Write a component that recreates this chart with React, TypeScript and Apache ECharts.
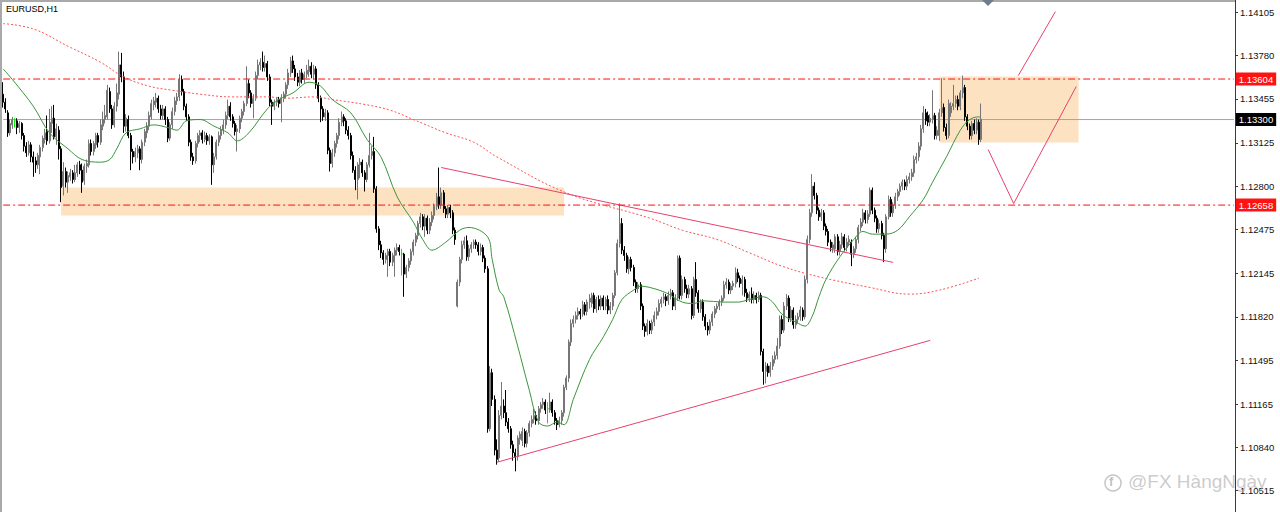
import React, { useEffect, useRef } from "react";
import * as echarts from "echarts";

const chartTitle = "EURUSD,H1";
const watermarkText = "@FX HàngNgày";
const SLOT_COUNT = 532;
const Y_MIN = 1.10355;
const Y_MAX = 1.14197;
const yTickValues = [1.14105, 1.1378, 1.13455, 1.13125, 1.128, 1.12475, 1.12145, 1.1182, 1.11495, 1.11165, 1.1084, 1.10515];

// each row: [open, close, high, low]
const candlesOCHL: number[][] = [
  [1.1349,1.1343,1.1358,1.1339],[1.1343,1.1338,1.1346,1.1335],[1.1335,1.1320,1.1337,1.1317],[1.1320,1.1327,1.1330,1.1318],
  [1.1326,1.1330,1.1332,1.1323],[1.1329,1.1329,1.1331,1.1324],[1.1329,1.1324,1.1331,1.1319],[1.1324,1.1327,1.1329,1.1320],
  [1.1327,1.1318,1.1328,1.1315],[1.1318,1.1310,1.1320,1.1306],[1.1310,1.1305,1.1313,1.1302],[1.1305,1.1311,1.1314,1.1303],
  [1.1311,1.1302,1.1313,1.1298],[1.1302,1.1298,1.1306,1.1287],[1.1299,1.1296,1.1302,1.1290],[1.1296,1.1303,1.1305,1.1293],
  [1.1302,1.1309,1.1311,1.1289],[1.1309,1.1316,1.1318,1.1306],[1.1315,1.1320,1.1323,1.1312],[1.1321,1.1314,1.1333,1.1311],
  [1.1314,1.1328,1.1338,1.1312],[1.1327,1.1331,1.1340,1.1320],[1.1331,1.1317,1.1341,1.1315],[1.1317,1.1323,1.1327,1.1311],
  [1.1322,1.1308,1.1325,1.1300],[1.1308,1.1279,1.1310,1.1268],
  [1.1280,1.1291,1.1298,1.1273],[1.1291,1.1283,1.1294,1.1279],[1.1283,1.1288,1.1291,1.1275],[1.1287,1.1290,1.1293,1.1284],
  [1.1290,1.1285,1.1292,1.1282],[1.1285,1.1290,1.1296,1.1283],[1.1290,1.1296,1.1298,1.1287],[1.1296,1.1292,1.1299,1.1289],
  [1.1292,1.1283,1.1297,1.1275],[1.1284,1.1295,1.1297,1.1281],[1.1295,1.1297,1.1300,1.1290],[1.1296,1.1312,1.1315,1.1294],
  [1.1312,1.1306,1.1315,1.1303],[1.1306,1.1312,1.1314,1.1303],[1.1311,1.1318,1.1320,1.1308],[1.1318,1.1313,1.1320,1.1309],
  [1.1313,1.1326,1.1330,1.1311],[1.1325,1.1330,1.1336,1.1322],[1.1330,1.1333,1.1341,1.1327],[1.1332,1.1352,1.1356,1.1330],
  [1.1351,1.1338,1.1354,1.1335],[1.1338,1.1326,1.1341,1.1323],[1.1326,1.1340,1.1343,1.1324],[1.1340,1.1350,1.1357,1.1336],
  [1.1349,1.1371,1.1381,1.1345],[1.1371,1.1362,1.1380,1.1358],[1.1362,1.1325,1.1366,1.1320],[1.1325,1.1331,1.1334,1.1321],
  [1.1330,1.1318,1.1333,1.1316],[1.1318,1.1306,1.1320,1.1292],[1.1306,1.1302,1.1308,1.1297],[1.1302,1.1306,1.1309,1.1298],
  [1.1305,1.1308,1.1311,1.1301],[1.1308,1.1300,1.1310,1.1292],[1.1300,1.1313,1.1315,1.1297],[1.1313,1.1321,1.1323,1.1310],
  [1.1320,1.1325,1.1328,1.1316],[1.1325,1.1333,1.1336,1.1322],[1.1332,1.1342,1.1345,1.1330],[1.1341,1.1344,1.1347,1.1337],
  [1.1343,1.1346,1.1350,1.1339],[1.1346,1.1338,1.1348,1.1335],[1.1338,1.1333,1.1341,1.1330],[1.1333,1.1338,1.1341,1.1330],
  [1.1338,1.1330,1.1340,1.1326],[1.1330,1.1316,1.1332,1.1313],[1.1316,1.1326,1.1328,1.1314],
  [1.1326,1.1336,1.1339,1.1323],[1.1336,1.1344,1.1347,1.1333],[1.1344,1.1347,1.1350,1.1341],[1.1347,1.1360,1.1364,1.1344],
  [1.1360,1.1351,1.1363,1.1348],[1.1351,1.1340,1.1353,1.1337],[1.1340,1.1332,1.1342,1.1329],[1.1332,1.1313,1.1334,1.1310],
  [1.1313,1.1302,1.1315,1.1299],[1.1302,1.1299,1.1305,1.1296],[1.1299,1.1312,1.1314,1.1297],[1.1312,1.1318,1.1320,1.1309],
  [1.1318,1.1320,1.1322,1.1313],[1.1320,1.1315,1.1322,1.1312],[1.1315,1.1318,1.1321,1.1313],[1.1318,1.1314,1.1320,1.1311],
  [1.1314,1.1317,1.1319,1.1311],[1.1317,1.1296,1.1318,1.1281],[1.1296,1.1302,1.1305,1.1290],
  [1.1302,1.1313,1.1315,1.1300],[1.1313,1.1318,1.1321,1.1310],[1.1318,1.1322,1.1325,1.1315],[1.1322,1.1326,1.1330,1.1319],
  [1.1326,1.1333,1.1336,1.1323],[1.1333,1.1340,1.1345,1.1330],[1.1340,1.1332,1.1343,1.1329],[1.1332,1.1327,1.1334,1.1324],
  [1.1327,1.1321,1.1329,1.1318],[1.1321,1.1323,1.1326,1.1306],[1.1323,1.1331,1.1333,1.1320],[1.1331,1.1336,1.1338,1.1328],
  [1.1336,1.1342,1.1344,1.1333],[1.1342,1.1357,1.1370,1.1340],[1.1357,1.1350,1.1360,1.1346],[1.1350,1.1342,1.1352,1.1339],
  [1.1342,1.1346,1.1349,1.1331],[1.1346,1.1363,1.1366,1.1344],[1.1363,1.1371,1.1375,1.1360],[1.1371,1.1373,1.1376,1.1367],
  [1.1373,1.1369,1.1381,1.1366],[1.1369,1.1372,1.1378,1.1366],[1.1372,1.1362,1.1374,1.1359],[1.1362,1.1343,1.1364,1.1340],
  [1.1343,1.1340,1.1345,1.1326],[1.1340,1.1343,1.1345,1.1337],[1.1343,1.1345,1.1347,1.1340],[1.1345,1.1342,1.1347,1.1339],
  [1.1342,1.1346,1.1349,1.1328],[1.1346,1.1349,1.1351,1.1343],[1.1349,1.1356,1.1358,1.1346],[1.1356,1.1365,1.1368,1.1353],
  [1.1365,1.1374,1.1377,1.1362],[1.1374,1.1368,1.1378,1.1365],[1.1368,1.1362,1.1371,1.1359],[1.1362,1.1358,1.1365,1.1355],
  [1.1358,1.1365,1.1367,1.1355],[1.1365,1.1360,1.1368,1.1357],[1.1360,1.1364,1.1366,1.1357],[1.1364,1.1367,1.1371,1.1361],
  [1.1366,1.1370,1.1375,1.1362],[1.1370,1.1364,1.1373,1.1361],[1.1364,1.1368,1.1371,1.1360],[1.1368,1.1356,1.1370,1.1353],
  [1.1356,1.1346,1.1358,1.1343],[1.1346,1.1338,1.1348,1.1328],[1.1338,1.1332,1.1340,1.1329],[1.1332,1.1335,1.1338,1.1329],
  [1.1335,1.1307,1.1337,1.1304],[1.1307,1.1297,1.1309,1.1291],[1.1297,1.1305,1.1308,1.1294],[1.1305,1.1312,1.1314,1.1302],
  [1.1312,1.1318,1.1320,1.1309],[1.1318,1.1328,1.1331,1.1315],[1.1328,1.1332,1.1336,1.1325],[1.1332,1.1329,1.1334,1.1325],
  [1.1329,1.1322,1.1331,1.1319],[1.1322,1.1318,1.1325,1.1315],[1.1318,1.1303,1.1320,1.1300],[1.1303,1.1292,1.1306,1.1290],
  [1.1292,1.1285,1.1295,1.1277],[1.1285,1.1296,1.1298,1.1270],[1.1296,1.1298,1.1301,1.1286],[1.1298,1.1290,1.1300,1.1287],
  [1.1290,1.1285,1.1292,1.1276],[1.1285,1.1296,1.1298,1.1283],[1.1296,1.1303,1.1320,1.1294],[1.1303,1.1306,1.1310,1.1300],
  [1.1306,1.1278,1.1317,1.1275],[1.1278,1.1248,1.1280,1.1245],[1.1248,1.1236,1.1250,1.1232],
  [1.1236,1.1230,1.1239,1.1226],[1.1230,1.1225,1.1232,1.1221],[1.1225,1.1228,1.1230,1.1222],[1.1228,1.1231,1.1233,1.1212],
  [1.1231,1.1223,1.1233,1.1220],[1.1223,1.1228,1.1230,1.1220],[1.1228,1.1232,1.1234,1.1212],[1.1232,1.1234,1.1237,1.1228],
  [1.1234,1.1231,1.1236,1.1228],[1.1229,1.1229,1.1233,1.1213],[1.1229,1.1214,1.1230,1.1197],[1.1214,1.1219,1.1221,1.1211],
  [1.1219,1.1224,1.1226,1.1216],[1.1224,1.1231,1.1233,1.1221],[1.1231,1.1238,1.1240,1.1228],[1.1238,1.1243,1.1245,1.1235],
  [1.1243,1.1252,1.1254,1.1240],[1.1252,1.1257,1.1260,1.1249],[1.1257,1.1250,1.1259,1.1247],[1.1250,1.1256,1.1259,1.1242],
  [1.1256,1.1247,1.1258,1.1244],[1.1247,1.1253,1.1256,1.1244],[1.1253,1.1258,1.1261,1.1250],[1.1258,1.1265,1.1267,1.1255],
  [1.1265,1.1272,1.1275,1.1262],[1.1272,1.1266,1.1294,1.1263],[1.1266,1.1275,1.1279,1.1263],[1.1275,1.1263,1.1277,1.1260],
  [1.1263,1.1259,1.1265,1.1256],[1.1259,1.1264,1.1266,1.1256],[1.1264,1.1260,1.1266,1.1256],[1.1260,1.1247,1.1262,1.1244],
  [1.1247,1.1240,1.1249,1.1236],
  [1.1190,1.1208,1.1210,1.1189],[1.1208,1.1225,1.1227,1.1205],[1.1225,1.1236,1.1239,1.1222],[1.1236,1.1239,1.1242,1.1233],
  [1.1239,1.1227,1.1243,1.1224],[1.1227,1.1233,1.1236,1.1224],[1.1233,1.1236,1.1238,1.1230],[1.1236,1.1238,1.1240,1.1233],
  [1.1238,1.1236,1.1240,1.1233],[1.1236,1.1231,1.1238,1.1228],[1.1231,1.1234,1.1237,1.1228],[1.1234,1.1226,1.1236,1.1223],
  [1.1226,1.1218,1.1228,1.1215],[1.1218,1.1098,1.1220,1.1095],[1.1098,1.1140,1.1145,1.1096],[1.1140,1.1120,1.1143,1.1115],
  [1.1120,1.1082,1.1123,1.1078],[1.1082,1.1075,1.1090,1.1071],
  [1.1076,1.1108,1.1112,1.1073],[1.1108,1.1115,1.1133,1.1105],[1.1115,1.1110,1.1120,1.1106],[1.1110,1.1103,1.1127,1.1100],
  [1.1103,1.1098,1.1106,1.1095],[1.1098,1.1086,1.1100,1.1083],[1.1086,1.1080,1.1089,1.1074],[1.1080,1.1077,1.1083,1.1066],
  [1.1077,1.1091,1.1093,1.1074],[1.1090,1.1094,1.1096,1.1086],[1.1089,1.1096,1.1099,1.1085],[1.1096,1.1087,1.1098,1.1084],
  [1.1087,1.1095,1.1097,1.1084],[1.1095,1.1102,1.1104,1.1092],[1.1102,1.1105,1.1108,1.1099],[1.1105,1.1108,1.1113,1.1102],
  [1.1108,1.1104,1.1111,1.1101],[1.1104,1.1113,1.1115,1.1101],[1.1113,1.1116,1.1118,1.1110],[1.1116,1.1118,1.1121,1.1113],
  [1.1118,1.1112,1.1120,1.1109],[1.1113,1.1113,1.1118,1.1102],[1.1112,1.1118,1.1125,1.1110],[1.1118,1.1110,1.1120,1.1107],
  [1.1110,1.1104,1.1112,1.1101],[1.1104,1.1101,1.1106,1.1097],[1.1101,1.1104,1.1107,1.1099],[1.1104,1.1110,1.1112,1.1101],
  [1.1110,1.1129,1.1131,1.1107],[1.1129,1.1136,1.1138,1.1127],[1.1136,1.1163,1.1165,1.1133],[1.1163,1.1177,1.1180,1.1160],
  [1.1177,1.1180,1.1183,1.1174],
  [1.1180,1.1183,1.1186,1.1177],[1.1183,1.1186,1.1189,1.1180],[1.1186,1.1184,1.1188,1.1180],[1.1184,1.1191,1.1194,1.1182],
  [1.1191,1.1186,1.1193,1.1183],[1.1186,1.1193,1.1195,1.1183],[1.1193,1.1196,1.1199,1.1188],[1.1192,1.1198,1.1200,1.1189],
  [1.1198,1.1188,1.1200,1.1185],[1.1188,1.1195,1.1197,1.1185],[1.1195,1.1190,1.1198,1.1187],[1.1190,1.1196,1.1198,1.1187],
  [1.1196,1.1190,1.1198,1.1187],[1.1190,1.1195,1.1197,1.1187],[1.1195,1.1187,1.1198,1.1184],[1.1187,1.1190,1.1193,1.1184],
  [1.1190,1.1198,1.1200,1.1187],[1.1198,1.1215,1.1217,1.1196],[1.1215,1.1237,1.1240,1.1213],[1.1237,1.1252,1.1267,1.1234],
  [1.1252,1.1232,1.1256,1.1229],[1.1232,1.1228,1.1235,1.1224],[1.1228,1.1218,1.1230,1.1215],[1.1218,1.1225,1.1227,1.1214],
  [1.1225,1.1219,1.1227,1.1216],[1.1219,1.1208,1.1221,1.1205],[1.1208,1.1203,1.1210,1.1200],[1.1203,1.1206,1.1208,1.1200],
  [1.1206,1.1190,1.1208,1.1187],[1.1190,1.1175,1.1192,1.1172],[1.1175,1.1171,1.1177,1.1167],[1.1171,1.1177,1.1180,1.1168],
  [1.1177,1.1172,1.1179,1.1169],[1.1172,1.1178,1.1180,1.1169],[1.1178,1.1183,1.1186,1.1175],[1.1183,1.1186,1.1189,1.1180],
  [1.1186,1.1192,1.1195,1.1183],[1.1192,1.1195,1.1197,1.1189],[1.1195,1.1197,1.1200,1.1192],[1.1197,1.1194,1.1199,1.1190],
  [1.1194,1.1198,1.1201,1.1191],[1.1198,1.1200,1.1203,1.1195],[1.1200,1.1190,1.1202,1.1187],[1.1190,1.1196,1.1199,1.1187],
  [1.1196,1.1226,1.1228,1.1194],[1.1226,1.1198,1.1228,1.1195],[1.1198,1.1210,1.1213,1.1195],[1.1210,1.1203,1.1212,1.1200],
  [1.1203,1.1199,1.1206,1.1196],[1.1199,1.1203,1.1206,1.1196],[1.1203,1.1183,1.1205,1.1180],[1.1183,1.1210,1.1212,1.1181],
  [1.1210,1.1200,1.1223,1.1197],[1.1200,1.1188,1.1202,1.1185],[1.1188,1.1193,1.1195,1.1185],[1.1193,1.1182,1.1195,1.1179],
  [1.1182,1.1175,1.1184,1.1172],[1.1175,1.1172,1.1178,1.1168],[1.1172,1.1178,1.1180,1.1169],[1.1178,1.1184,1.1186,1.1175],
  [1.1184,1.1188,1.1190,1.1181],[1.1188,1.1190,1.1192,1.1185],[1.1190,1.1193,1.1195,1.1187],[1.1193,1.1196,1.1198,1.1190],
  [1.1196,1.1206,1.1209,1.1194],[1.1206,1.1208,1.1211,1.1203],[1.1208,1.1202,1.1210,1.1199],[1.1202,1.1205,1.1207,1.1199],
  [1.1205,1.1207,1.1209,1.1202],[1.1207,1.1215,1.1219,1.1204],[1.1215,1.1211,1.1218,1.1208],[1.1211,1.1207,1.1213,1.1204],
  [1.1207,1.1210,1.1213,1.1198],[1.1210,1.1200,1.1212,1.1197],[1.1200,1.1196,1.1203,1.1193],[1.1196,1.1199,1.1201,1.1193],
  [1.1199,1.1195,1.1204,1.1192],[1.1195,1.1198,1.1201,1.1192],[1.1198,1.1195,1.1200,1.1192],[1.1195,1.1198,1.1201,1.1193],
  [1.1198,1.1156,1.1200,1.1153],[1.1156,1.1141,1.1158,1.1131],
  [1.1141,1.1145,1.1148,1.1132],[1.1145,1.1140,1.1147,1.1137],[1.1140,1.1145,1.1148,1.1137],[1.1145,1.1150,1.1153,1.1142],
  [1.1150,1.1153,1.1156,1.1147],[1.1153,1.1160,1.1166,1.1150],[1.1160,1.1180,1.1183,1.1158],[1.1180,1.1172,1.1183,1.1169],
  [1.1172,1.1190,1.1193,1.1170],[1.1190,1.1196,1.1199,1.1187],[1.1196,1.1181,1.1198,1.1178],[1.1181,1.1187,1.1190,1.1178],
  [1.1187,1.1176,1.1189,1.1173],[1.1176,1.1180,1.1183,1.1173],[1.1180,1.1182,1.1185,1.1177],[1.1182,1.1187,1.1190,1.1179],
  [1.1187,1.1182,1.1189,1.1179],[1.1182,1.1210,1.1213,1.1180],[1.1210,1.1240,1.1243,1.1207],[1.1240,1.1260,1.1263,1.1237],
  [1.1260,1.1280,1.1289,1.1257],[1.1280,1.1273,1.1283,1.1270],[1.1273,1.1262,1.1275,1.1259],
  [1.1262,1.1257,1.1264,1.1254],[1.1257,1.1260,1.1263,1.1254],[1.1260,1.1250,1.1262,1.1247],[1.1250,1.1246,1.1252,1.1243],
  [1.1246,1.1238,1.1248,1.1235],[1.1238,1.1234,1.1240,1.1231],[1.1233,1.1236,1.1238,1.1230],[1.1233,1.1242,1.1244,1.1230],
  [1.1242,1.1231,1.1244,1.1228],[1.1231,1.1236,1.1239,1.1228],[1.1236,1.1242,1.1245,1.1233],[1.1242,1.1234,1.1244,1.1231],
  [1.1234,1.1238,1.1241,1.1231],[1.1238,1.1240,1.1243,1.1235],[1.1238,1.1229,1.1240,1.1220],[1.1229,1.1233,1.1235,1.1226],
  [1.1233,1.1240,1.1242,1.1230],[1.1240,1.1249,1.1251,1.1237],[1.1249,1.1253,1.1256,1.1246],[1.1253,1.1260,1.1263,1.1250],
  [1.1260,1.1255,1.1262,1.1252],[1.1255,1.1259,1.1262,1.1252],[1.1259,1.1277,1.1279,1.1257],[1.1277,1.1262,1.1279,1.1259],
  [1.1262,1.1256,1.1264,1.1253],[1.1256,1.1248,1.1258,1.1245],[1.1248,1.1252,1.1255,1.1245],[1.1252,1.1243,1.1254,1.1240],
  [1.1243,1.1233,1.1245,1.1223],[1.1233,1.1257,1.1259,1.1230],[1.1257,1.1270,1.1273,1.1255],[1.1270,1.1260,1.1272,1.1257],
  [1.1260,1.1266,1.1268,1.1257],[1.1266,1.1272,1.1275,1.1263],[1.1272,1.1276,1.1278,1.1269],
  [1.1276,1.1280,1.1282,1.1273],[1.1280,1.1283,1.1285,1.1277],[1.1283,1.1280,1.1285,1.1277],[1.1280,1.1285,1.1288,1.1277],
  [1.1285,1.1287,1.1290,1.1282],[1.1287,1.1290,1.1293,1.1284],[1.1290,1.1300,1.1303,1.1287],[1.1300,1.1302,1.1305,1.1297],
  [1.1302,1.1310,1.1313,1.1299],[1.1310,1.1323,1.1326,1.1307],[1.1323,1.1335,1.1340,1.1320],[1.1335,1.1329,1.1338,1.1326],
  [1.1333,1.1328,1.1336,1.1325],[1.1328,1.1331,1.1334,1.1325],[1.1330,1.1333,1.1352,1.1327],[1.1333,1.1318,1.1335,1.1315],
  [1.1318,1.1322,1.1325,1.1315],[1.1318,1.1335,1.1338,1.1314],[1.1335,1.1339,1.1361,1.1332],[1.1339,1.1324,1.1342,1.1321],
  [1.1324,1.1318,1.1327,1.1315],[1.1318,1.1342,1.1345,1.1316],[1.1335,1.1340,1.1343,1.1332],[1.1340,1.1342,1.1356,1.1337],
  [1.1342,1.1345,1.1348,1.1339],[1.1345,1.1340,1.1348,1.1337],[1.1340,1.1350,1.1352,1.1337],[1.1350,1.1354,1.1363,1.1346],
  [1.1354,1.1332,1.1356,1.1329],[1.1332,1.1325,1.1334,1.1322],[1.1325,1.1318,1.1327,1.1315],[1.1318,1.1327,1.1329,1.1315],
  [1.1327,1.1322,1.1330,1.1319],[1.1322,1.1328,1.1331,1.1319],[1.1328,1.1315,1.1330,1.1311],[1.1315,1.1330,1.1342,1.1313],
];

// green moving average, read as [bar index, price]
const fastMA: number[][] = [
  [0,1.1368],[4,1.1360],[13,1.1340],[20,1.1320],[28,1.1308],[34,1.1300],[42,1.1298],[46,1.1300],[49,1.1308],[53,1.1320],
  [59,1.1323],[65,1.1326],[71,1.1324],[75,1.1322],[79,1.1329],[85,1.1330],[91,1.1325],[97,1.1320],[101,1.1314],[106,1.1320],
  [114,1.1338],[119,1.1345],[125,1.1350],[132,1.1358],[137,1.1355],[142,1.1345],[150,1.1335],[157,1.1315],[163,1.1302],
  [170,1.1272],[177,1.1253],[181,1.1240],[185,1.1232],[191,1.1238],[197,1.1247],[201,1.1249],[209,1.1242],[211,1.1225],
  [214,1.1202],[216,1.1197],[222,1.1160],[227,1.1127],[231,1.1103],[235,1.1100],[239,1.1103],[242,1.1101],[246,1.1120],
  [253,1.1150],[259,1.1167],[263,1.1180],[267,1.1195],[272,1.1202],[275,1.1205],[279,1.1204],[286,1.1200],[293,1.1193],
  [298,1.1192],[302,1.1194],[311,1.1193],[317,1.1193],[322,1.1195],[328,1.1197],[332,1.1193],[336,1.1184],[342,1.1178],
  [346,1.1175],[349,1.1182],[352,1.1197],[355,1.1210],[361,1.1227],[367,1.1240],[371,1.1246],[375,1.1244],[381,1.1244],
  [386,1.1247],[391,1.1257],[397,1.1270],[401,1.1283],[407,1.1302],[413,1.1322],[417,1.1330],[421,1.1332],[422,1.1331],
];

// red dotted slow moving average, [bar index, price]
const slowMA: number[][] = [
  [0,1.1402],[13,1.1398],[28,1.1385],[42,1.1373],[52,1.1362],[63,1.1355],[73,1.1352],[85,1.1349],[99,1.1347],[114,1.1347],
  [122,1.1346],[134,1.1347],[142,1.1345],[157,1.1341],[167,1.1337],[177,1.1330],[191,1.1320],[203,1.1313],[213,1.1302],
  [243,1.1275],[279,1.1256],[293,1.1247],[308,1.1240],[322,1.1230],[336,1.1220],[352,1.1212],[374,1.1204],[391,1.1199],
  [404,1.1202],[421,1.1211],
];

const resistanceLevel = 1.13604;
const supportLevel = 1.12658;
const bidPrice = 1.133;

const upperTrendline = [[189, 1.1294], [384, 1.12228]];
const lowerTrendline = [[213, 1.10728], [400, 1.11643]];
const projectionV = [[425, 1.13075], [436, 1.1267], [463, 1.13548]];
const projectionUp = [[438, 1.1363], [454, 1.1411]];

const demandZone = [[25, 1.1279], [242, 1.1258]];
const supplyZone = [[404, 1.13623], [464, 1.13128]];

const slots = Array.from({ length: SLOT_COUNT }, (_, i) => String(i));

export default function App() {
  const ref = useRef<HTMLDivElement>(null);

  useEffect(() => {
    if (!ref.current) return;
    const chart = echarts.init(ref.current, undefined, { renderer: "svg" });

    const candleData = candlesOCHL.map(([o, c, h, l]) => [o, c, l, h]);
    const trendSeries = (name: string, data: number[][]) => ({
      name,
      type: "line",
      data,
      silent: true,
      showSymbol: false,
      symbol: "none",
      z: 6,
      color: "#e8416d",
      lineStyle: { color: "#e8416d", width: 1 },
    });

    // horizontal price level drawn across the whole plot, with its price tag on the axis
    const levelSeries = (name: string, value: number, lineColor: string, dash: any, tagColor: string, z: number) => ({
      name,
      type: "line",
      data: [[0, value], [SLOT_COUNT - 1, value]],
      silent: true,
      showSymbol: false,
      symbol: "none",
      z,
      color: lineColor,
      lineStyle: { color: lineColor, width: 1, type: dash },
      endLabel: {
        show: true,
        distance: 2,
        color: "#ffffff",
        backgroundColor: tagColor,
        fontSize: 9.5,
        fontFamily: "Liberation Sans",
        padding: [2, 3, 1, 3],
        formatter: () => value.toFixed(5),
      },
    });

    chart.setOption({
      animation: false,
      backgroundColor: "#ffffff",
      grid: { left: 2, right: 45, top: 0, bottom: 0, containLabel: false },
      xAxis: { type: "category", data: slots, show: false, boundaryGap: true },
      yAxis: {
        type: "value",
        position: "right",
        min: Y_MIN,
        max: Y_MAX,
        splitLine: { show: false },
        axisLine: { show: true, lineStyle: { color: "#3a3a3a", width: 1 } },
        axisTick: { show: true, length: 3, customValues: yTickValues, lineStyle: { color: "#3a3a3a" } },
        axisLabel: {
          customValues: yTickValues,
          formatter: (v: number) => v.toFixed(5),
          color: "#111",
          fontSize: 9.5,
          fontFamily: "Liberation Sans",
          margin: 5,
        },
      },
      series: [
        {
          name: "zones",
          type: "line",
          data: [],
          silent: true,
          z: 1,
          markArea: {
            silent: true,
            itemStyle: { color: "#fde2c2" },
            data: [
              [{ coord: demandZone[0] }, { coord: demandZone[1] }],
              [{ coord: supplyZone[0] }, { coord: supplyZone[1] }],
            ],
          },
        },
        levelSeries("bid", bidPrice, "#a3a7ab", "solid", "#000000", 2),
        levelSeries("resistance", resistanceLevel, "#ff0d0d", [7, 3, 2, 3], "#ff1212", 7),
        levelSeries("support", supportLevel, "#ff0d0d", [7, 3, 2, 3], "#ff1212", 7),
        {
          name: "EURUSD",
          type: "candlestick",
          data: candleData,
          silent: true,
          z: 3,
          barWidth: 1.5,
          itemStyle: {
            color: "#a8a8a8",
            color0: "#000000",
            borderColor: "#767676",
            borderColor0: "#000000",
            borderColorDoji: "#00ee00",
            borderWidth: 1,
          },
        },
        {
          name: "slowMA",
          type: "line",
          data: slowMA,
          silent: true,
          showSymbol: false,
          symbol: "none",
          smooth: 0.4,
          z: 4,
          color: "#ff5252",
          lineStyle: { color: "#ff5252", width: 1, type: [2, 2] },
        },
        {
          name: "fastMA",
          type: "line",
          data: fastMA,
          silent: true,
          showSymbol: false,
          symbol: "none",
          smooth: 0.35,
          z: 5,
          color: "#3a963a",
          lineStyle: { color: "#3a963a", width: 1 },
        },
        trendSeries("upperTrend", upperTrendline),
        trendSeries("lowerTrend", lowerTrendline),
        trendSeries("projectionV", projectionV),
        trendSeries("projectionUp", projectionUp),
      ],
      graphic: [
        { type: "rect", left: 0, top: 0, shape: { width: 1235, height: 2 }, style: { fill: "#a9a9a9" }, silent: true, z: 50 },
        { type: "rect", left: 0, top: 0, shape: { width: 2, height: 512 }, style: { fill: "#a9a9a9" }, silent: true, z: 50 },
        {
          type: "polygon",
          shape: { points: [[982, 0], [994, 0], [988, 6]] },
          style: { fill: "#6f7c8c" },
          silent: true,
          z: 51,
        },
        {
          type: "text",
          left: 6,
          top: 4,
          style: { text: chartTitle, fill: "#000", font: "9px 'Liberation Sans'" },
          silent: true,
          z: 52,
        },
        {
          type: "circle",
          shape: { cx: 1113, cy: 483, r: 8 },
          style: { fill: "none", stroke: "rgba(150,150,150,0.55)", lineWidth: 1.5 },
          silent: true,
          z: 52,
        },
        {
          type: "text",
          left: 1109,
          top: 475,
          style: { text: "f", fill: "rgba(150,150,150,0.6)", font: "bold 13px 'Liberation Sans'" },
          silent: true,
          z: 52,
        },
        {
          type: "text",
          left: 1128,
          top: 472,
          style: { text: watermarkText, fill: "rgba(160,160,160,0.55)", font: "19px 'Liberation Sans'" },
          silent: true,
          z: 52,
        },
      ],
    });

    return () => chart.dispose();
  }, []);

  return (
    <div
      ref={ref}
      style={{ position: "fixed", left: 0, top: 0, width: 1280, height: 512, background: "#fff" }}
    />
  );
}
